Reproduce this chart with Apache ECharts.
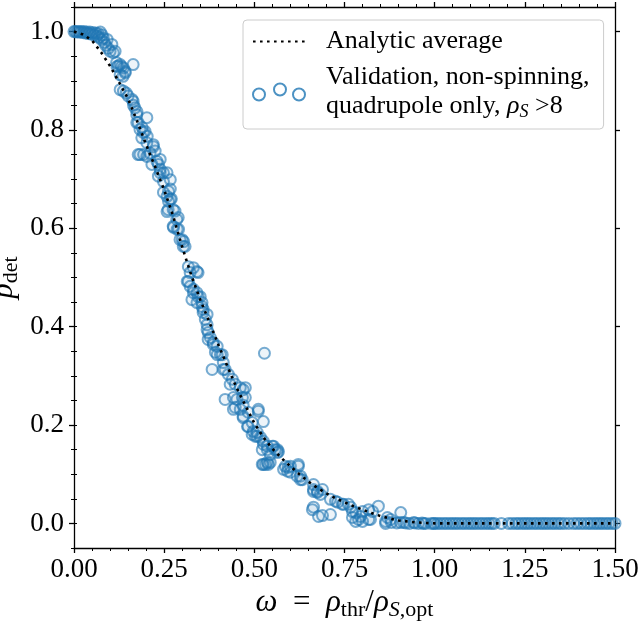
<!DOCTYPE html>
<html><head><meta charset="utf-8">
<script src="https://cdn.jsdelivr.net/npm/echarts@6/dist/echarts.min.js"></script>
<style>html,body{margin:0;padding:0;background:#fff}#c{width:640px;height:624px}</style>
</head><body><div id="c"></div>
<script>
// ---- data ----
const xTickValues = [0, 0.25, 0.5, 0.75, 1.0, 1.25, 1.5];
const yTickValues = [0, 0.2, 0.4, 0.6, 0.8, 1.0];

const curveX = [0,0.025,0.05,0.075,0.1,0.125,0.15,0.175,0.2,0.225,0.25,0.275,0.3,0.325,0.35,0.375,0.4,0.425,0.45,0.475,0.5,0.525,0.55,0.575,0.6,0.625,0.65,0.675,0.7,0.725,0.75,0.775,0.8,0.825,0.85,0.875,0.9,0.925,0.95,0.975,1.0,1.25,1.5];
const curveY = [1.0,0.994,0.982,0.958,0.93,0.897,0.863,0.818,0.77,0.725,0.678,0.625,0.562,0.505,0.455,0.41,0.364,0.32,0.277,0.24,0.204,0.175,0.152,0.133,0.116,0.100,0.085,0.072,0.061,0.051,0.043,0.035,0.028,0.021,0.015,0.01,0.006,0.004,0.002,0.001,0,0,0];

const validationPoints = [
[0.000,1.000],[0.004,1.000],[0.008,0.999],[0.012,1.000],[0.016,0.999],[0.020,1.000],[0.024,0.998],[0.028,1.000],[0.032,0.997],[0.036,0.999],[0.040,0.996],[0.044,0.999],[0.048,0.995],[0.052,0.998],[0.056,0.993],[0.060,0.997],[0.064,0.991],[0.067,0.996],[0.070,0.988],[0.073,0.999],[0.076,0.984],[0.078,0.993],[0.081,0.987],[0.084,0.978],[0.088,0.972],[0.092,0.984],[0.095,0.966],[0.100,0.960],[0.105,0.974],[0.109,0.957],[0.114,0.960],[0.118,0.937],[0.119,0.929],[0.123,0.930],[0.128,0.933],[0.128,0.912],[0.132,0.929],[0.136,0.909],[0.137,0.926],[0.142,0.916],[0.142,0.919],[0.164,0.933],
[0.128,0.882],[0.137,0.879],[0.145,0.875],[0.150,0.869],[0.161,0.862],[0.164,0.858],[0.165,0.850],[0.169,0.845],[0.174,0.831],[0.175,0.837],[0.202,0.825],[0.174,0.815],[0.178,0.815],[0.183,0.801],[0.189,0.805],[0.192,0.795],[0.197,0.797],[0.188,0.784],[0.203,0.787],[0.202,0.774],[0.220,0.770],[0.220,0.766],[0.178,0.750],[0.183,0.750],[0.193,0.750],[0.211,0.753],[0.225,0.757],[0.202,0.746],[0.216,0.730],[0.230,0.736],[0.234,0.730],[0.239,0.740],[0.239,0.720],[0.248,0.713],[0.239,0.713],[0.234,0.706],[0.258,0.713],[0.248,0.695],[0.267,0.699],[0.262,0.675],[0.267,0.680],[0.248,0.673],[0.258,0.665],[0.267,0.659],[0.262,0.655],[0.270,0.660],[0.258,0.634],[0.261,0.638],[0.275,0.638],[0.280,0.635],[0.289,0.622],[0.285,0.618],[0.275,0.604],[0.276,0.602],[0.286,0.598],[0.290,0.598],[0.294,0.577],[0.300,0.577],[0.304,0.573],[0.303,0.563],[0.308,0.563],
[0.317,0.522],[0.322,0.510],[0.331,0.520],[0.341,0.512],[0.344,0.510],[0.317,0.492],[0.314,0.492],[0.322,0.482],[0.331,0.476],[0.331,0.469],[0.341,0.469],[0.344,0.461],[0.350,0.461],[0.341,0.449],[0.355,0.449],[0.327,0.455],[0.355,0.441],[0.358,0.435],[0.358,0.429],[0.369,0.425],[0.364,0.415],[0.369,0.404],[0.369,0.394],[0.372,0.388],[0.372,0.374],[0.378,0.378],[0.386,0.368],[0.386,0.364],[0.397,0.360],[0.392,0.348],[0.397,0.343],[0.406,0.343],[0.411,0.343],[0.383,0.313],[0.414,0.327],[0.419,0.313],[0.414,0.313],[0.428,0.303],[0.439,0.293],[0.433,0.283],[0.447,0.283],[0.461,0.276],[0.469,0.272],[0.475,0.276],[0.442,0.256],[0.452,0.252],[0.467,0.256],[0.475,0.256],[0.419,0.252],[0.447,0.236],[0.442,0.232],[0.461,0.232],[0.469,0.240],[0.483,0.226],[0.511,0.232],[0.511,0.228],[0.469,0.215],[0.469,0.218],[0.481,0.197],[0.483,0.197],[0.494,0.205],[0.525,0.207],[0.497,0.187],[0.508,0.185],[0.494,0.181],[0.503,0.177],[0.508,0.177],[0.517,0.175],[0.525,0.167],[0.525,0.161],[0.522,0.150],[0.536,0.150],[0.536,0.157],[0.550,0.157],[0.553,0.157],[0.558,0.150],[0.564,0.150],[0.564,0.144],[0.567,0.146],[0.544,0.140],[0.531,0.120],[0.539,0.120],[0.522,0.120],[0.525,0.120],[0.536,0.124],[0.544,0.124],[0.528,0.346],
[0.581,0.110],[0.586,0.116],[0.594,0.114],[0.592,0.106],[0.600,0.116],[0.622,0.116],[0.622,0.120],[0.600,0.104],[0.619,0.096],[0.628,0.096],[0.628,0.089],[0.633,0.089],[0.664,0.079],[0.675,0.065],[0.683,0.059],[0.664,0.069],[0.664,0.065],[0.675,0.063],[0.689,0.069],[0.661,0.028],[0.664,0.033],[0.678,0.014],[0.689,0.016],[0.711,0.018],[0.711,0.049],[0.725,0.045],[0.731,0.043],[0.744,0.039],[0.747,0.039],[0.761,0.039],[0.767,0.033],[0.772,0.024],[0.781,0.022],[0.772,0.012],[0.789,0.008],[0.794,0.014],[0.781,0.004],[0.800,0.004],[0.800,0.024],[0.817,0.028],[0.817,0.008],[0.828,0.024],[0.844,0.035],[0.822,0.008],[0.864,0.004],[0.869,0.012],[0.878,0.008],[0.864,0.000],[0.906,0.022],[0.914,0.002],[0.942,0.002],[0.969,0.000],[0.997,0.000],
[0.880,0.002],[0.895,0.001],[0.905,0.002],[0.920,0.001],[0.930,0.000],[0.945,0.001],[0.955,0.000],[0.965,0.001],[0.975,0.000],[0.990,0.000],
[1.000,0],[1.008,0],[1.016,0],[1.025,0],[1.033,0],[1.042,0],[1.050,0],[1.058,0],[1.066,0],[1.075,0],[1.083,0],[1.092,0],[1.100,0],[1.108,0],[1.116,0],[1.125,0],[1.133,0],[1.142,0],[1.150,0],[1.158,0],[1.165,0],
[1.185,0],[1.205,0],[1.215,0],[1.225,0],[1.233,0],[1.242,0],[1.250,0],[1.258,0],[1.266,0],[1.275,0],[1.283,0],[1.292,0],[1.300,0],[1.308,0],[1.316,0],[1.325,0],[1.333,0],[1.342,0],[1.350,0],[1.360,0],[1.372,0],[1.385,0],[1.395,0],[1.405,0],[1.415,0],[1.425,0],[1.433,0],[1.442,0],[1.450,0],[1.458,0],[1.466,0],[1.475,0],[1.483,0],[1.492,0],[1.500,0]
];

const seriesNames = ['Analytic average', 'Validation, non-spinning, quadrupole only'];

// ---- chart ----
const FONT = 'Liberation Serif';
const FS = 27;
const blue = '#1f77b4';
const curveData = curveX.map((x, i) => [x, curveY[i]]);

const chart = echarts.init(document.getElementById('c'), null, {renderer: 'canvas'});

const axisLineStyle = {color: '#000', width: 1.3};
const richBase = {
  i: {fontFamily: FONT, fontSize: 31, fontStyle: 'italic', color: '#000', lineHeight: 36},
  n: {fontFamily: FONT, fontSize: 31, color: '#000', lineHeight: 36},
  s: {fontFamily: FONT, fontSize: 22, color: '#000', verticalAlign: 'bottom', lineHeight: 19},
  si: {fontFamily: FONT, fontSize: 22, fontStyle: 'italic', color: '#000', verticalAlign: 'bottom', lineHeight: 19}
};

function xAxisDef(pos, showLabel) {
  return {
    type: 'value', position: pos, min: 0, max: 1.5, interval: 0.25,
    axisLine: {show: true, onZero: false, lineStyle: axisLineStyle},
    axisTick: {show: true, inside: false, length: 5, lineStyle: axisLineStyle},
    minorTick: {show: true, splitNumber: 5, length: 3, lineStyle: {color: '#000', width: 1}},
    axisLabel: {show: showLabel, formatter: v => v.toFixed(2), margin: 8,
      fontFamily: FONT, fontSize: FS, color: '#000'},
    splitLine: {show: false}, minorSplitLine: {show: false}
  };
}

const xAxes = [xAxisDef('bottom', true), xAxisDef('top', false)];
xAxes[0].name = '{i|ω}{n|  =  }{i|ρ}{s|thr}{n|/}{i|ρ}{si|S}{s|,opt}';
xAxes[0].nameLocation = 'middle';
xAxes[0].nameGap = 37;
xAxes[0].nameMoveOverlap = false;
xAxes[0].nameTextStyle = {fontFamily: FONT, fontSize: 31, color: '#000', rich: richBase};

function yMajor(pos, showLabel) {
  return {
    type: 'value', position: pos, min: -0.05, max: 1.05,
    axisLine: {show: true, onZero: false, lineStyle: axisLineStyle},
    axisTick: {show: true, inside: false, length: 5, customValues: yTickValues, lineStyle: axisLineStyle},
    axisLabel: {show: showLabel, customValues: yTickValues, formatter: v => v.toFixed(1), margin: 10,
      fontFamily: FONT, fontSize: FS, color: '#000'},
    splitLine: {show: false}
  };
}
function yMinor(pos) {
  return {
    type: 'value', position: pos, min: -0.05, max: 1.05, interval: 0.05,
    axisLine: {show: false},
    axisTick: {show: true, inside: false, length: 3, lineStyle: {color: '#000', width: 1}},
    axisLabel: {show: false},
    splitLine: {show: false}
  };
}
const yAxes = [yMajor('left', true), yMinor('left'), yMajor('right', false), yMinor('right')];
yAxes[0].name = '{i|p}{s|det}';
yAxes[0].nameLocation = 'middle';
yAxes[0].nameGap = 52;
yAxes[0].nameRotate = 90;
yAxes[0].nameMoveOverlap = false;
yAxes[0].nameTextStyle = {fontFamily: FONT, fontSize: 31, color: '#000', rich: richBase};

const threeCircles = 'path://M0,11a6,6 0 1,0 12,0a6,6 0 1,0 -12,0M21,6a6,6 0 1,0 12,0a6,6 0 1,0 -12,0M40,11a6,6 0 1,0 12,0a6,6 0 1,0 -12,0';

chart.setOption({
  backgroundColor: '#fff',
  animation: false,
  grid: {left: 74, right: 25, top: 7, bottom: 76, outerBoundsMode: 'none', containLabel: false},
  xAxis: xAxes,
  yAxis: yAxes,
  legend: {
    orient: 'vertical', left: 243, top: 20,
    itemWidth: 52, itemHeight: 17, itemGap: 7,
    padding: [7, 14, 8, 9],
    backgroundColor: 'rgba(255,255,255,0.85)',
    borderColor: '#cccccc', borderWidth: 1, borderRadius: 4,
    data: [
      {name: seriesNames[0], itemStyle: {color: 'rgba(0,0,0,0)', borderWidth: 0, opacity: 0}},
      {name: seriesNames[1], icon: threeCircles,
       itemStyle: {color: 'rgba(255,255,255,0)', borderColor: blue, borderWidth: 2}}
    ],
    formatter: function (name) {
      if (name === seriesNames[0]) return '{n|Analytic average}';
      return '{n|Validation, non-spinning,}\n{n|quadrupole only, }{i|ρ}{si|S}{n| >8}';
    },
    textStyle: {
      fontFamily: FONT, fontSize: 26, color: '#000', lineHeight: 29, padding: [0, 0, 0, 16],
      rich: {
        n: {fontFamily: FONT, fontSize: 26, color: '#000', lineHeight: 29},
        i: {fontFamily: FONT, fontSize: 26, fontStyle: 'italic', color: '#000', lineHeight: 29},
        si: {fontFamily: FONT, fontSize: 18, fontStyle: 'italic', color: '#000', verticalAlign: 'bottom', lineHeight: 16}
      }
    }
  },
  series: [
    {
      name: seriesNames[1], type: 'scatter', xAxisIndex: 0, yAxisIndex: 0,
      data: validationPoints, symbol: 'circle', symbolSize: 11, z: 2,
      itemStyle: {color: 'rgba(31,119,180,0.10)', borderColor: 'rgba(31,119,180,0.75)', borderWidth: 2}
    },
    {
      name: seriesNames[0], type: 'line', xAxisIndex: 0, yAxisIndex: 0,
      data: curveData, showSymbol: false, symbol: 'none', z: 5,
      lineStyle: {color: '#000', width: 2.6, type: [2.6, 4.4], cap: 'butt'}
    }
  ]
});
</script>
</body></html>
